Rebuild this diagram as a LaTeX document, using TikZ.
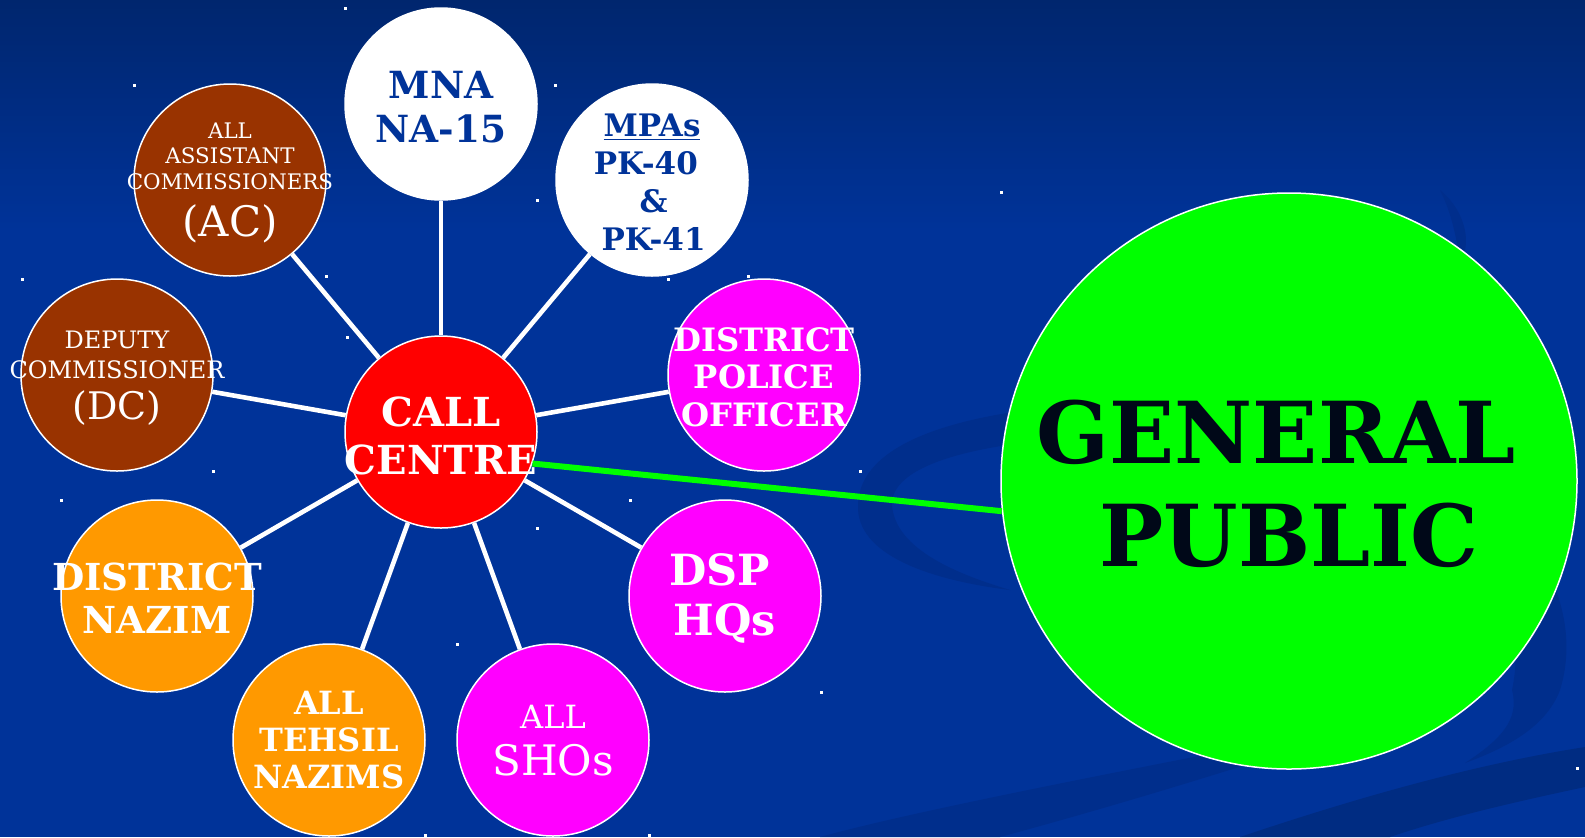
\documentclass[tikz,border=0pt]{standalone}
\usepackage{fontspec}
\setmainfont{DejaVu Serif}
\definecolor{bgtop}{RGB}{0,38,110}
\definecolor{bgmain}{RGB}{0,51,153}
\definecolor{swoosh}{RGB}{0,46,140}
\definecolor{swoosh2}{RGB}{0,44,130}
\definecolor{brownc}{RGB}{153,51,0}
\definecolor{orangec}{RGB}{255,153,0}
\definecolor{magc}{RGB}{255,0,255}
\definecolor{txtblue}{RGB}{0,51,153}
\definecolor{gptext}{RGB}{0,8,24}
\newcommand{\sml}{\fontsize{10.7}{12.7}\selectfont}
\newcommand{\lrg}{\fontsize{21}{22}\selectfont}
\newcommand{\dcs}{\fontsize{12}{15}\selectfont}
\newcommand{\dcl}{\fontsize{19}{19}\selectfont}
\newcommand{\shs}{\fontsize{16}{18}\selectfont}
\begin{document}
\begin{tikzpicture}[x=0.5pt,y=-0.5pt,
  bub/.style={circle,draw=white,line width=0.75pt,minimum size=96pt,inner sep=0pt},
  big/.style={circle,draw=white,line width=0.75pt,minimum size=288pt,inner sep=0pt},
  txt/.style={align=center,inner sep=0pt},
  spoke/.style={draw=white,line width=2.3pt},
  star/.style={fill=white}]
\useasboundingbox (0,0) rectangle (1585,837);
% background
\fill[bgmain] (0,0) rectangle (1585,837);
\shade[top color=bgtop,bottom color=bgmain] (0,0) rectangle (1585,230);
% swooshes
\fill[swoosh] (858,505) .. controls (860,430) and (1000,400) .. (1200,400)
  .. controls (1450,400) and (1600,560) .. (1560,690)
  .. controls (1545,730) and (1500,750) .. (1465,763)
  .. controls (1500,740) and (1520,720) .. (1512,690)
  .. controls (1540,560) and (1400,440) .. (1200,435)
  .. controls (1000,432) and (890,460) .. (892,505)
  .. controls (895,550) and (960,575) .. (1010,590)
  .. controls (930,580) and (856,555) .. (858,505) -- cycle;
\fill[swoosh] (1440,190) .. controls (1470,215) and (1470,250) .. (1460,260) .. controls (1455,230) and (1450,210) .. (1440,190) -- cycle;
\fill[swoosh] (820,837) .. controls (900,815) and (1050,785) .. (1240,748)
  -- (1255,762) .. controls (1150,795) and (1070,818) .. (1000,837) -- cycle;
\fill[swoosh2] (1240,837) .. controls (1350,800) and (1470,765) .. (1585,747)
  -- (1585,787) .. controls (1500,805) and (1440,820) .. (1390,837) -- cycle;
% stars
\foreach \sx/\sy in {345/8,134/85,555/85,537/200,1001/192,22/279,326/276,668/279,748/276,347/337,213/471,860/471,61/500,630/500,537/528,457/644,234/644,821/692,425/835,649/835,1577/768}
  \fill[star] (\sx-1.5,\sy-1.5) rectangle (\sx+1.5,\sy+1.5);
% nodes
\node[bub,fill=red] (cc) at (441,432) {};
\node[bub,fill=white] (mna) at (441,104) {};
\node[bub,fill=white] (mpa) at (652,180) {};
\node[bub,fill=brownc] (ac) at (230,180) {};
\node[bub,fill=brownc] (dc) at (117,375) {};
\node[bub,fill=magc] (dpo) at (764,375) {};
\node[bub,fill=magc] (dsp) at (725,596) {};
\node[bub,fill=magc] (sho) at (553,740) {};
\node[bub,fill=orangec] (teh) at (329,740) {};
\node[bub,fill=orangec] (dnz) at (157,596) {};
\node[big,fill=green] (gp) at (1289,481) {};
% connectors
\foreach \n in {mna,mpa,ac,dc,dpo,dsp,sho,teh,dnz}
  \draw[spoke] (cc) -- (\n);
\draw[green,line width=3pt] (cc.-19) -- (gp.186.5);
% texts
\node[txt,text=white,font=\fontsize{20}{23.7}\selectfont\bfseries] (cct) at (441,436) {CALL\\CENTRE};
\node[txt,text=txtblue,font=\fontsize{18.7}{22}\selectfont\bfseries] (mnat) at (441,107) {MNA\\NA-15};
\node[txt,text=txtblue,font=\fontsize{15.5}{19}\selectfont\bfseries] (mpat) at (652,182) {\underline{MPAs}\\PK-40\rule{0.4em}{0pt}\\\rule{0.1em}{0pt}\&\\\rule{0.1em}{0pt}PK-41};
\node[txt,text=white,font=\sml] (act) at (230,183) {\sml ALL\\\sml ASSISTANT\\\sml COMMISSIONERS\\[6.5pt]\lrg (AC)};
\node[txt,text=white,font=\dcs] (dct) at (117,378) {\dcs DEPUTY\\\dcs COMMISSIONER\\[5.5pt]\dcl (DC)};
\node[txt,text=white,font=\fontsize{16.1}{18.7}\selectfont\bfseries] (dpot) at (764,377) {DISTRICT\\POLICE\\OFFICER};
\node[txt,text=white,font=\fontsize{21.5}{25}\selectfont\bfseries] (dspt) at (725,598) {DSP\rule{0.25em}{0pt}\\HQs};
\node[txt,text=white,font=\shs] (shot) at (553,741) {\shs ALL\\[5.5pt]\lrg SHOs};
\node[txt,text=white,font=\fontsize{16}{18.7}\selectfont\bfseries] (teht) at (329,740) {ALL\\TEHSIL\\NAZIMS};
\node[txt,text=white,font=\fontsize{18.6}{21.7}\selectfont\bfseries] (dnzt) at (157,598) {DISTRICT\\NAZIM};
\node[txt,text=gptext,font=\fontsize{42.75}{51.5}\selectfont\bfseries] (gpt) at (1289,484) {GENERAL\rule{0.3em}{0pt}\\PUBLIC};
\end{tikzpicture}
\end{document}
